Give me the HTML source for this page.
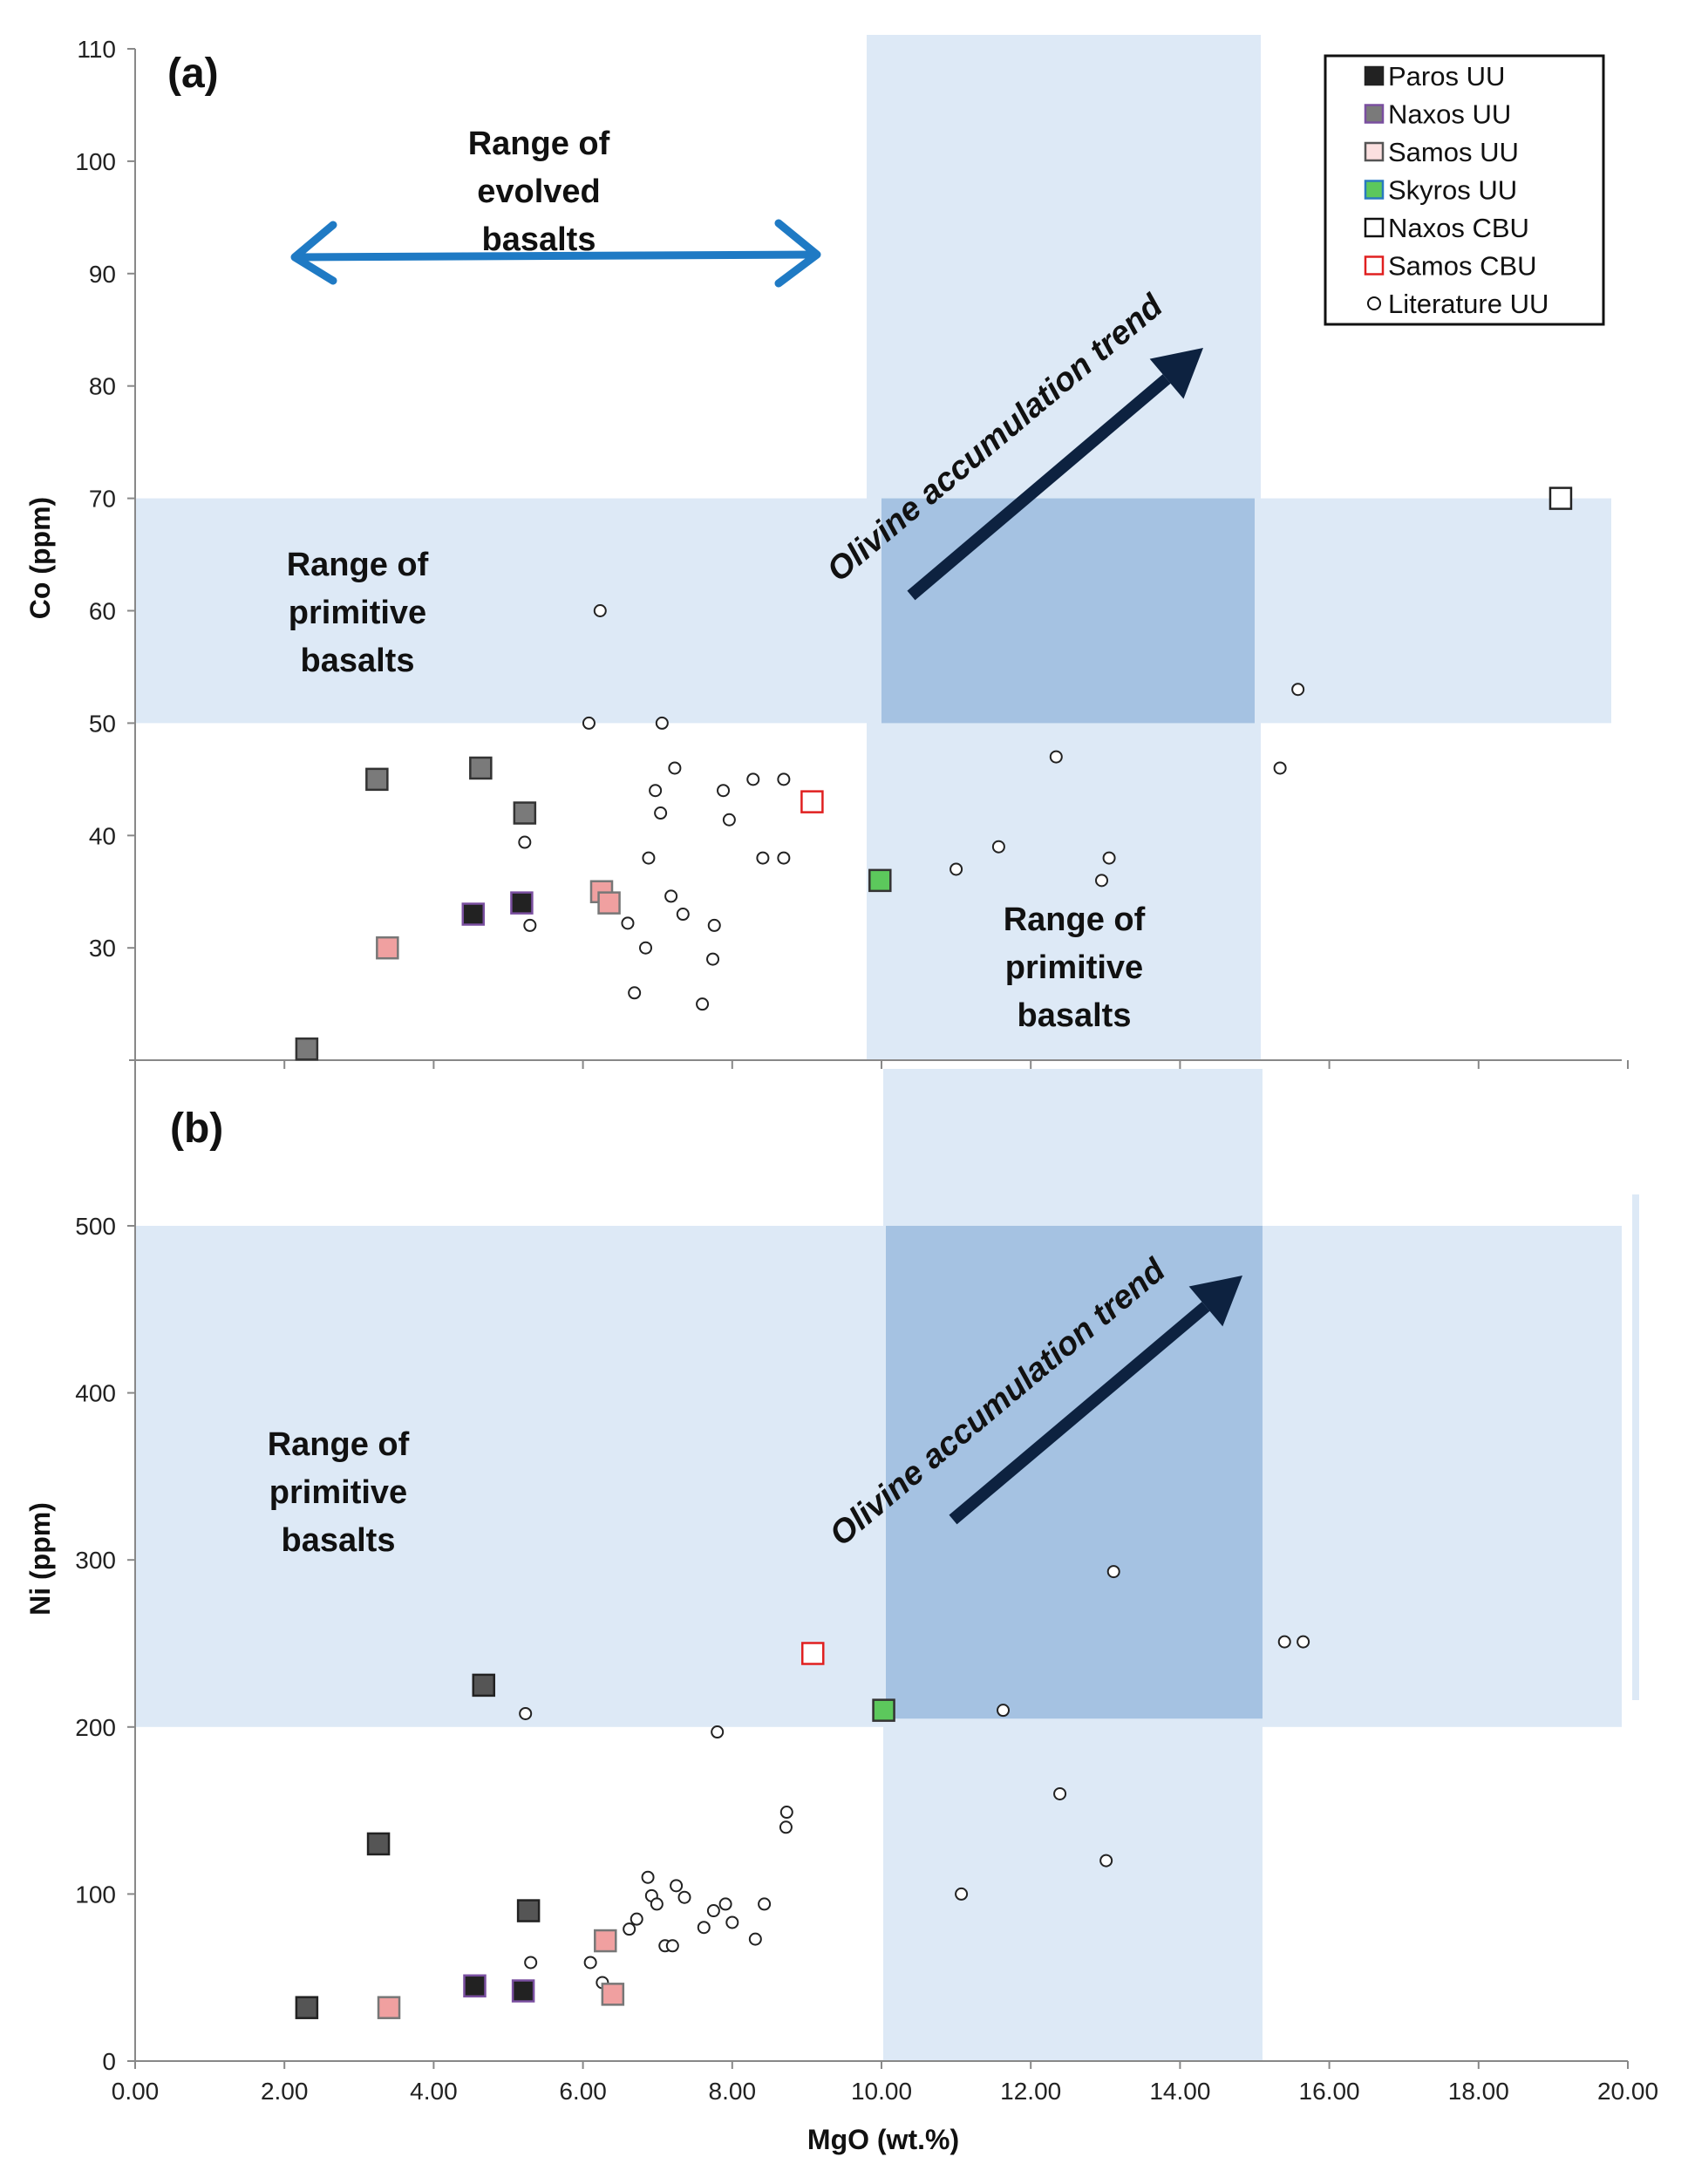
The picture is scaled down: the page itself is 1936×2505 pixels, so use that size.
<!DOCTYPE html>
<html><head><meta charset="utf-8">
<style>
html,body{margin:0;padding:0;background:#fff;}
svg{display:block;font-family:"Liberation Sans",sans-serif;}
</style></head>
<body>
<svg id="chart" width="1936" height="2505" viewBox="0 0 1936 2505" xmlns="http://www.w3.org/2000/svg">
<g id="bands"></g>
<g id="axes"></g>
<g id="marks"></g>
<g id="annot"></g>
</svg>
<script>
// ---------- data ----------
const xTicks = [0,2,4,6,8,10,12,14,16,18,20];
const coTicks = [110,100,90,80,70,60,50,40,30];
const niTicks = [500,400,300,200,100,0];
// panel a: [MgO, Co]
const parosCo = [[4.53,33],[5.18,34]];
const naxosCo = [[3.24,45],[4.63,46],[5.22,42],[2.3,21]];
const samosCo = [[3.38,30],[6.25,35],[6.35,34]];
const skyrosCo = [[9.98,36]];
const naxosCbuCo = [[19.1,70]];
const samosCbuCo = [[9.07,43]];
const litCo = [[6.23,60],[6.08,50],[7.06,50],[7.23,46],[6.97,44],[7.04,42],[7.88,44],[7.96,41.4],[8.28,45],[8.69,45],[5.22,39.4],[6.88,38],[8.41,38],[8.69,38],[7.18,34.6],[7.34,33],[6.6,32.2],[5.29,32],[7.76,32],[6.84,30],[7.74,29],[6.69,26],[7.6,25],[11.0,37],[11.57,39],[13.05,38],[12.95,36],[12.34,47],[15.34,46],[15.58,53]];
// panel b: [MgO, Ni]
const parosNi = [[4.55,45],[5.2,42]];
const naxosNi = [[2.3,32],[3.26,130],[4.67,225],[5.27,90]];
const samosNi = [[3.4,32],[6.3,72],[6.4,40]];
const skyrosNi = [[10.03,210]];
const samosCbuNi = [[9.08,244]];
const litNi = [[5.23,208],[7.8,197],[13.11,293],[11.63,210],[15.4,251],[15.65,251],[12.39,160],[13.01,120],[11.07,100],[8.73,149],[8.72,140],[6.87,110],[7.25,105],[6.92,99],[7.36,98],[6.99,94],[7.91,94],[8.43,94],[7.75,90],[6.72,85],[8.0,83],[6.62,79],[7.62,80],[7.1,69],[7.2,69],[8.31,73],[5.3,59],[6.1,59],[6.26,47]];

// ---------- scales ----------
const X = v => 155 + v*85.6;
const YA = v => 56 + (110-v)*12.89;
const YB = v => 2364 - v*1.916;
const NS="http://www.w3.org/2000/svg";
function el(tag, attrs, parent, txt){const e=document.createElementNS(NS,tag);for(const k in attrs)e.setAttribute(k,attrs[k]);if(txt!==undefined)e.textContent=txt;parent.appendChild(e);return e;}
const bands=document.getElementById('bands'),axes=document.getElementById('axes'),marks=document.getElementById('marks');
const light="#dde9f6", dark="#a5c2e2";

let r;
r=el('rect',{x:155,y:YA(70),width:1848-155,height:YA(50)-YA(70),fill:light},bands);


r=el('rect',{x:994,y:40,width:452,height:1216-40,fill:light},bands);


r=el('rect',{x:X(10),y:YA(70),width:X(15)-X(10),height:YA(50)-YA(70),fill:dark},bands);


r=el('rect',{x:155,y:YB(500),width:1860-155,height:YB(200)-YB(500),fill:light},bands);


r=el('rect',{x:1013,y:1226,width:435,height:2364-1226,fill:light},bands);


r=el('rect',{x:1016,y:YB(500),width:1448-1016,height:YB(205)-YB(500),fill:dark},bands);


r=el('rect',{x:1872,y:1370,width:8,height:580,fill:light},bands);



let a;
a=el('line',{x1:155,y1:56,x2:155,y2:1230,stroke:'#888','stroke-width':2},axes);


a=el('line',{x1:148,y1:1216,x2:1860,y2:1216,stroke:'#888','stroke-width':2},axes);


coTicks.forEach(t=>{
  el('line',{x1:146,y1:YA(t),x2:155,y2:YA(t),stroke:'#888','stroke-width':2},axes);
  const tx=el('text',{x:133,y:YA(t)+10,'font-size':28,'text-anchor':'end',fill:'#222'},axes,t);
  
  
});
xTicks.forEach(t=>{el('line',{x1:X(t),y1:1216,x2:X(t),y2:1226,stroke:'#888','stroke-width':2},axes);});
a=el('line',{x1:155,y1:1226,x2:155,y2:2364,stroke:'#888','stroke-width':2},axes);


a=el('line',{x1:155,y1:2364,x2:1867,y2:2364,stroke:'#888','stroke-width':2},axes);


niTicks.forEach(t=>{
  el('line',{x1:146,y1:YB(t),x2:155,y2:YB(t),stroke:'#888','stroke-width':2},axes);
  const tx=el('text',{x:133,y:YB(t)+10,'font-size':28,'text-anchor':'end',fill:'#222'},axes,t);
  
  
});
xTicks.forEach(t=>{
  el('line',{x1:X(t),y1:2364,x2:X(t),y2:2373,stroke:'#888','stroke-width':2},axes);
  const tx=el('text',{x:X(t),y:2408,'font-size':28,'text-anchor':'middle',fill:'#222'},axes,t.toFixed(2));
  
  
});

function sq(pts,Y,fill,stroke,name){pts.forEach(p=>{const m=el('rect',{x:X(p[0])-12,y:Y(p[1])-12,width:24,height:24,fill:fill,stroke:stroke,'stroke-width':2.5},marks);

});}
function circ(pts,Y,name){pts.forEach(p=>{const m=el('circle',{cx:X(p[0]),cy:Y(p[1]),r:6.5,fill:'#fff',stroke:'#222','stroke-width':2},marks);

});}
circ(litCo,YA,'literature-uu-point');
sq(naxosCo,YA,'#7a7a7a','#333','naxos-uu-point');
sq(parosCo,YA,'#222','#7a4fa0','paros-uu-point');
sq(samosCo,YA,'#f0a0a0','#777','samos-uu-point');
sq(skyrosCo,YA,'#5cc85c','#333','skyros-uu-point');
sq(naxosCbuCo,YA,'#fff','#222','naxos-cbu-point');
sq(samosCbuCo,YA,'#fff','#e02020','samos-cbu-point');
circ(litNi,YB,'literature-uu-point');
sq(naxosNi,YB,'#555','#222','naxos-uu-point');
sq(parosNi,YB,'#222','#7a4fa0','paros-uu-point');
sq(samosNi,YB,'#f0a0a0','#777','samos-uu-point');
sq(skyrosNi,YB,'#5cc85c','#333','skyros-uu-point');
sq(samosCbuNi,YB,'#fff','#e02020','samos-cbu-point');
</script>
<script>
(function(){
const NS="http://www.w3.org/2000/svg";
const annot=document.getElementById('annot');
function el(tag, attrs, parent, txt){const e=document.createElementNS(NS,tag);for(const k in attrs)e.setAttribute(k,attrs[k]);if(txt!==undefined)e.textContent=txt;parent.appendChild(e);return e;}
function lines(arr,cx,y0,dy,name){const g=el('g',{},annot);arr.forEach((s,i)=>el('text',{x:cx,y:y0+i*dy,'font-size':38,'font-weight':'bold','text-anchor':'middle',fill:'#111'},g,s));}
lines(['Range of','evolved','basalts'],618,177,55,'evolved-basalts-label');
lines(['Range of','primitive','basalts'],410,660,55,'primitive-basalts-label-a-left');
lines(['Range of','primitive','basalts'],1232,1067,55,'primitive-basalts-label-a-right');
lines(['Range of','primitive','basalts'],388,1669,55,'primitive-basalts-label-b');
let t;
t=el('text',{x:192,y:100,'font-size':48,'font-weight':'bold',fill:'#111'},annot,'(a)');


t=el('text',{x:195,y:1310,'font-size':48,'font-weight':'bold',fill:'#111'},annot,'(b)');


t=el('text',{x:0,y:0,'font-size':32,'font-weight':'bold','text-anchor':'middle',fill:'#111',transform:'translate(57,640) rotate(-90)'},annot,'Co (ppm)');


t=el('text',{x:0,y:0,'font-size':32,'font-weight':'bold','text-anchor':'middle',fill:'#111',transform:'translate(57,1788) rotate(-90)'},annot,'Ni (ppm)');


t=el('text',{x:1013,y:2465,'font-size':32,'font-weight':'bold','text-anchor':'middle',fill:'#111'},annot,'MgO (wt.%)');


const g=el('g',{stroke:'#1f7ac4','stroke-width':9,fill:'none','stroke-linecap':'round','stroke-linejoin':'round'},annot);


el('line',{x1:340,y1:295,x2:935,y2:292},g);
el('polyline',{points:'382,258 338,295 382,322'},g);
el('polyline',{points:'893,256 937,292 893,325'},g);
function oliv(x1,y1,x2,y2,cx,cy,name){
  const gg=el('g',{},annot);
  const ang=Math.atan2(y2-y1,x2-x1);
  const hx=x2-Math.cos(ang)*55, hy=y2-Math.sin(ang)*55;
  el('line',{x1:x1,y1:y1,x2:hx,y2:hy,stroke:'#0d2240','stroke-width':14},gg);
  const px=-Math.sin(ang), py=Math.cos(ang);
  el('polygon',{points:`${x2},${y2} ${hx+px*30},${hy+py*30} ${hx-px*30},${hy-py*30}`,fill:'#0d2240'},gg);
  el('text',{x:0,y:0,'font-size':38,'font-weight':'bold','font-style':'italic','text-anchor':'middle',fill:'#111',transform:`translate(${cx},${cy}) rotate(-40)`},gg,'Olivine accumulation trend');
}
oliv(1045,683,1380,399,1149,512,'olivine-arrow-a');
oliv(1093,1743,1425,1463,1152,1618,'olivine-arrow-b');
const lg=el('g',{},annot);


el('rect',{x:1520,y:64,width:319,height:308,fill:'#fff',stroke:'#111','stroke-width':3},lg);
const items=[['Paros UU','#222','#222','s'],['Naxos UU','#7a7a7a','#7a4fa0','s'],['Samos UU','#fbe0e0','#555','s'],['Skyros UU','#5cc85c','#2a7ac0','s'],['Naxos CBU','#fff','#111','s'],['Samos CBU','#fff','#e02020','s'],['Literature UU','#fff','#111','c']];
items.forEach((it,i)=>{
  const y=87+i*43.5;
  const e=el('g',{},lg);
  
  
  if(it[3]==='s') el('rect',{x:1566,y:y-10,width:20,height:20,fill:it[1],stroke:it[2],'stroke-width':2.5},e);
  else el('circle',{cx:1576,cy:y,r:7,fill:'#fff',stroke:'#111','stroke-width':2},e);
  el('text',{x:1592,y:y+11,'font-size':31,fill:'#111'},e,it[0]);
});
})();
</script>
</body></html>
